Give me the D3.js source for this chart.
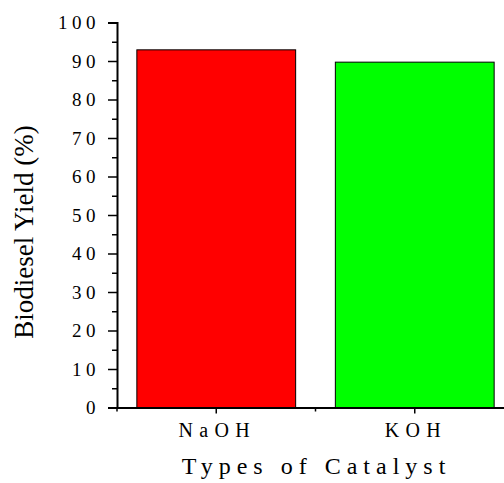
<!DOCTYPE html>
<html>
<head>
<meta charset="utf-8">
<script src="https://cdn.jsdelivr.net/npm/d3@7"></script>
<style>
  body { margin: 0; background: #fff; }
  text { font-family: "Liberation Serif", "Times New Roman", serif; fill: #000; }
</style>
</head>
<body>
<svg id="chart" width="504" height="483"></svg>
<script>
// data
var catalysts = ["NaOH", "KOH"];
var yields = [92.9, 89.7];
var barColors = ["#ff0000", "#00ff00"];
var yTicks = [0, 10, 20, 30, 40, 50, 60, 70, 80, 90, 100];
var yMinorTicks = [5, 15, 25, 35, 45, 55, 65, 75, 85, 95];

var svg = d3.select("#chart");
var plotLeft = 117, plotBottom = 407.5, plotTop = 22.5, plotRight = 514;

var x = d3.scaleBand()
    .domain(catalysts)
    .range([plotLeft, plotRight])
    .paddingInner(0.2)
    .paddingOuter(0.1);

var y = d3.scaleLinear()
    .domain([0, 100])
    .range([plotBottom, plotTop]);

// bars
svg.selectAll("rect.bar")
    .data(catalysts)
    .enter().append("rect")
    .attr("class", "bar")
    .attr("x", function(d) { return x(d); })
    .attr("y", function(d, i) { return y(yields[i]); })
    .attr("width", x.bandwidth())
    .attr("height", function(d, i) { return y(0) - y(yields[i]); })
    .attr("fill", function(d, i) { return barColors[i]; })
    .attr("stroke", "#000")
    .attr("stroke-width", 1);

// y axis, major + minor ticks
var yAxis = svg.append("g")
    .attr("transform", "translate(" + plotLeft + ",0)")
    .call(d3.axisLeft(y).tickValues(yTicks).tickSize(9).tickPadding(8));
yAxis.selectAll("text")
    .style("font-size", "19px")
    .style("letter-spacing", "4.5px");

svg.append("g")
    .attr("transform", "translate(" + plotLeft + ",0)")
    .call(d3.axisLeft(y).tickValues(yMinorTicks).tickSize(5).tickFormat(""))
    .select(".domain").remove();

// x axis
var xAxis = svg.append("g")
    .attr("transform", "translate(0," + plotBottom + ")")
    .call(d3.axisBottom(x).tickSize(6).tickPadding(9).tickSizeOuter(0));
xAxis.selectAll("text")
    .style("font-size", "20px")
    .style("letter-spacing", "6.3px")
    .attr("dx", "1px");

// small ticks between the categories
var bounds = [plotLeft].concat(catalysts.map(function(d) {
    return x(d) + x.bandwidth() + x.step() * x.paddingInner() / 2;
}));
svg.selectAll("line.minor-x")
    .data(bounds)
    .enter().append("line")
    .attr("class", "minor-x")
    .attr("x1", function(d) { return d; })
    .attr("x2", function(d) { return d; })
    .attr("y1", plotBottom)
    .attr("y2", plotBottom + 4)
    .attr("stroke", "#000")
    .attr("stroke-width", 1.5);

svg.selectAll(".domain").attr("stroke-width", 2);
svg.selectAll(".tick line").attr("stroke-width", 1.5);

// axis titles
svg.append("text")
    .attr("x", (plotLeft + plotRight) / 2 + 1)
    .attr("y", 474)
    .attr("text-anchor", "middle")
    .style("font-size", "24px")
    .style("letter-spacing", "6px")
    .text("Types of Catalyst");

svg.append("text")
    .attr("transform", "translate(33,232) rotate(-90)")
    .attr("text-anchor", "middle")
    .style("font-size", "27px")
    .text("Biodiesel Yield (%)");
</script>
</body>
</html>
